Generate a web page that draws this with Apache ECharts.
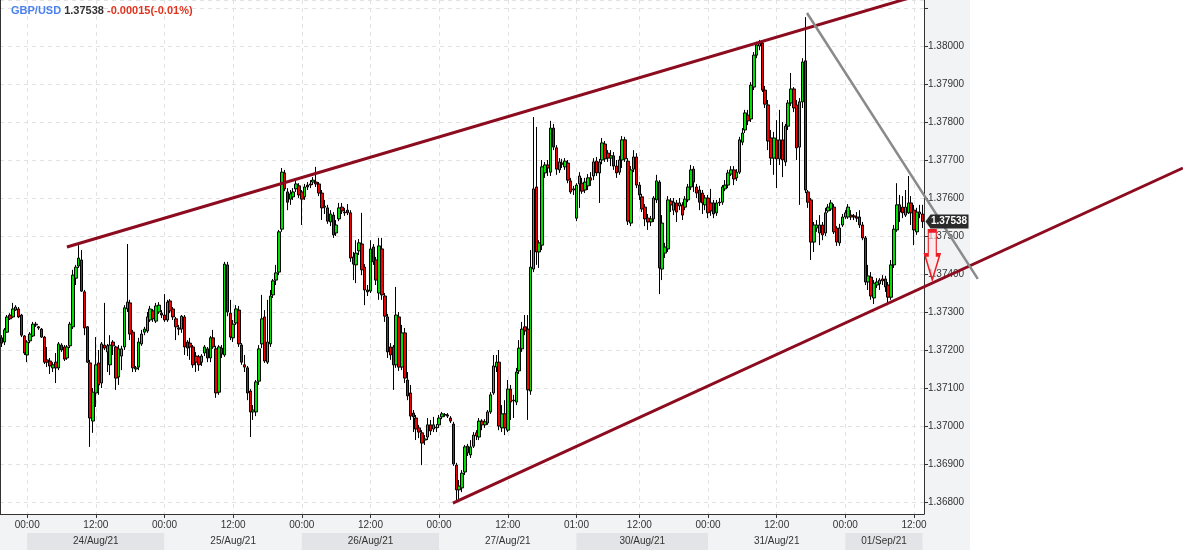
<!DOCTYPE html>
<html><head><meta charset="utf-8">
<script src="https://cdn.jsdelivr.net/npm/echarts@6/dist/echarts.min.js"></script>
<style>html,body{margin:0;padding:0;background:#fff}#c{width:1183px;height:550px}</style>
</head><body><div id="c"></div>
<script>
// trading sessions (30-minute candles): date, first candle, last candle
const sessions = [
  ['2021-08-23', '19:30', '23:30'],
  ['2021-08-24', '00:00', '23:30'],
  ['2021-08-25', '00:00', '23:30'],
  ['2021-08-26', '00:00', '23:30'],
  ['2021-08-27', '00:00', '23:30'],
  ['2021-08-30', '01:00', '23:30'],
  ['2021-08-31', '00:00', '23:30'],
  ['2021-09-01', '00:00', '13:30']
];
const dayLabels = [
  ['2021-08-24', '24/Aug/21'], ['2021-08-25', '25/Aug/21'], ['2021-08-26', '26/Aug/21'],
  ['2021-08-27', '27/Aug/21'], ['2021-08-30', '30/Aug/21'], ['2021-08-31', '31/Aug/21'],
  ['2021-09-01', '01/Sep/21']
];
const symbolName = 'GBP/USD';
const lastPrice = 1.37538;
const changeText = '-0.00015(-0.01%)';
const priceMin = 1.367684, priceMax = 1.381211, priceStep = 0.001;

const openP = [
1.37232,1.37221,1.37247,1.37292,1.37287,1.37305,1.37308,1.37292,1.37237,1.37187,
1.37224,1.37237,1.37268,1.37261,1.37255,1.37234,1.37174,1.37171,1.37153,1.37168,
1.37153,1.37213,1.37208,1.37179,1.37211,1.37261,1.37389,1.37421,1.37437,1.37353,
1.37261,1.37166,1.37013,1.37087,1.37166,1.37113,1.37213,1.37195,1.37161,1.37221,
1.37208,1.37129,1.37184,1.37208,1.37308,1.37324,1.37247,1.37150,1.37155,1.37216,
1.37247,1.37250,1.37279,1.37303,1.37276,1.37300,1.37297,1.37292,1.37279,1.37329,
1.37308,1.37282,1.37258,1.37255,1.37287,1.37221,1.37218,1.37208,1.37184,1.37182,
1.37168,1.37192,1.37203,1.37179,1.37232,1.37203,1.37089,1.37205,1.37187,1.37424,
1.37297,1.37232,1.37271,1.37305,1.37213,1.37161,1.37153,1.37092,1.37037,1.37037,
1.37118,1.37216,1.37287,1.37168,1.37216,1.37345,1.37384,1.37405,1.37518,1.37666,
1.37616,1.37597,1.37603,1.37624,1.37632,1.37616,1.37603,1.37634,1.37637,1.37642,
1.37642,1.37637,1.37613,1.37576,1.37574,1.37537,1.37555,1.37508,1.37545,1.37576,
1.37563,1.37568,1.37561,1.37445,1.37424,1.37461,1.37479,1.37418,1.37358,1.37355,
1.37471,1.37437,1.37350,1.37466,1.37342,1.37287,1.37208,1.37208,1.37161,1.37287,
1.37155,1.37245,1.37121,1.37087,1.37034,1.37021,1.36995,1.36982,1.36963,1.36971,
1.37003,1.36992,1.36995,1.37003,1.37024,1.37029,1.37029,1.37021,1.37005,1.36897,
1.36832,1.36837,1.36879,1.36947,1.36924,1.36947,1.36982,1.36971,1.37013,1.37003,
1.37008,1.37037,1.37087,1.37155,1.37168,1.36995,1.37032,1.36989,1.37097,1.37066,
1.37063,1.37145,1.37203,1.37261,1.37255,1.37092,1.37413,1.37629,1.37458,1.37476,
1.37666,1.37687,1.37668,1.37784,1.37732,1.37674,1.37692,1.37682,1.37692,1.37645,
1.37621,1.37547,1.37637,1.37639,1.37621,1.37632,1.37653,1.37658,1.37697,1.37666,
1.37700,1.37742,1.37718,1.37705,1.37711,1.37684,1.37668,1.37700,1.37753,1.37697,
1.37534,1.37676,1.37708,1.37634,1.37603,1.37576,1.37547,1.37537,1.37545,1.37595,
1.37642,1.37413,1.37455,1.37466,1.37592,1.37568,1.37587,1.37579,1.37582,1.37576,
1.37595,1.37629,1.37676,1.37629,1.37621,1.37613,1.37582,1.37600,1.37587,1.37587,
1.37561,1.37589,1.37589,1.37624,1.37634,1.37663,1.37674,1.37653,1.37668,1.37747,
1.37779,1.37818,1.37808,1.37892,1.37976,1.38000,1.38008,1.37884,1.37845,1.37758,
1.37705,1.37753,1.37703,1.37753,1.37695,1.37789,1.37850,1.37887,1.37845,1.37734,
1.37853,1.37961,1.37616,1.37595,1.37484,1.37521,1.37508,1.37529,1.37508,1.37566,
1.37571,1.37576,1.37521,1.37482,1.37529,1.37550,1.37550,1.37555,1.37553,1.37550,
1.37550,1.37529,1.37495,1.37379,1.37392,1.37337,1.37371,1.37374,1.37387,1.37387,
1.37371,1.37339,1.37424,1.37516,1.37582,1.37576,1.37555,1.37561,1.37587,1.37568,
1.37511,1.37558,1.37558
];
const closeP = [
1.37218,1.37253,1.37287,1.37282,1.37308,1.37313,1.37287,1.37239,1.37192,1.37221,
1.37242,1.37268,1.37266,1.37258,1.37234,1.37168,1.37168,1.37158,1.37161,1.37153,
1.37216,1.37200,1.37176,1.37208,1.37268,1.37397,1.37418,1.37442,1.37355,1.37258,
1.37168,1.37021,1.37089,1.37161,1.37108,1.37216,1.37205,1.37211,1.37213,1.37211,
1.37126,1.37203,1.37203,1.37311,1.37326,1.37242,1.37153,1.37153,1.37221,1.37242,
1.37255,1.37287,1.37308,1.37282,1.37316,1.37318,1.37292,1.37279,1.37326,1.37303,
1.37287,1.37261,1.37255,1.37289,1.37208,1.37205,1.37208,1.37161,1.37168,1.37161,
1.37184,1.37208,1.37179,1.37232,1.37208,1.37087,1.37208,1.37189,1.37426,1.37300,
1.37234,1.37268,1.37308,1.37216,1.37168,1.37155,1.37087,1.37037,1.37042,1.37116,
1.37203,1.37282,1.37171,1.37221,1.37342,1.37382,1.37403,1.37511,1.37668,1.37624,
1.37589,1.37611,1.37616,1.37637,1.37608,1.37597,1.37629,1.37629,1.37634,1.37647,
1.37637,1.37613,1.37574,1.37579,1.37539,1.37558,1.37503,1.37529,1.37574,1.37566,
1.37561,1.37561,1.37442,1.37426,1.37455,1.37482,1.37411,1.37358,1.37353,1.37466,
1.37432,1.37384,1.37474,1.37345,1.37289,1.37195,1.37187,1.37161,1.37292,1.37155,
1.37245,1.37126,1.37079,1.37026,1.37024,1.36992,1.36984,1.36955,1.36966,1.37003,
1.36987,1.37003,1.36997,1.37021,1.37032,1.37030,1.37026,1.37013,1.36900,1.36832,
1.36842,1.36876,1.36945,1.36929,1.36945,1.36976,1.36974,1.37013,1.37003,1.37011,
1.37037,1.37082,1.37158,1.37168,1.37000,1.37032,1.36995,1.37097,1.37063,1.37068,
1.37142,1.37205,1.37255,1.37250,1.37095,1.37418,1.37624,1.37458,1.37482,1.37682,
1.37687,1.37679,1.37784,1.37734,1.37676,1.37695,1.37689,1.37697,1.37647,1.37616,
1.37624,1.37634,1.37658,1.37618,1.37642,1.37653,1.37647,1.37695,1.37666,1.37695,
1.37745,1.37703,1.37705,1.37711,1.37684,1.37666,1.37700,1.37753,1.37703,1.37539,
1.37674,1.37708,1.37634,1.37608,1.37571,1.37545,1.37537,1.37545,1.37600,1.37645,
1.37416,1.37534,1.37471,1.37595,1.37582,1.37589,1.37563,1.37587,1.37555,1.37597,
1.37629,1.37674,1.37642,1.37613,1.37589,1.37587,1.37600,1.37561,1.37566,1.37558,
1.37587,1.37587,1.37629,1.37634,1.37666,1.37674,1.37650,1.37668,1.37753,1.37771,
1.37824,1.37803,1.37897,1.37976,1.38003,1.38008,1.37884,1.37847,1.37750,1.37705,
1.37758,1.37703,1.37753,1.37700,1.37789,1.37850,1.37887,1.37837,1.37732,1.37853,
1.37958,1.37621,1.37589,1.37484,1.37529,1.37529,1.37529,1.37503,1.37561,1.37576,
1.37587,1.37511,1.37484,1.37521,1.37550,1.37561,1.37576,1.37550,1.37550,1.37547,
1.37529,1.37495,1.37379,1.37395,1.37342,1.37376,1.37379,1.37384,1.37382,1.37366,
1.37339,1.37424,1.37518,1.37582,1.37563,1.37561,1.37576,1.37587,1.37561,1.37516,
1.37563,1.37563,1.37538
];
const lowP = [
1.37208,1.37213,1.37245,1.37279,1.37284,1.37303,1.37284,1.37234,1.37187,1.37168,
1.37218,1.37234,1.37261,1.37253,1.37232,1.37163,1.37155,1.37137,1.37142,1.37113,
1.37147,1.37195,1.37171,1.37174,1.37205,1.37255,1.37371,1.37416,1.37353,1.37239,
1.37166,1.36945,1.36982,1.37050,1.37082,1.37100,1.37200,1.37142,1.37134,1.37187,
1.37095,1.37108,1.37147,1.37200,1.37300,1.37226,1.37142,1.37142,1.37147,1.37211,
1.37239,1.37245,1.37274,1.37274,1.37271,1.37295,1.37284,1.37274,1.37274,1.37297,
1.37279,1.37226,1.37239,1.37245,1.37187,1.37184,1.37174,1.37153,1.37142,1.37145,
1.37158,1.37184,1.37168,1.37168,1.37203,1.37074,1.37082,1.37179,1.37182,1.37289,
1.37226,1.37221,1.37266,1.37208,1.37161,1.37142,1.37068,1.36971,1.37016,1.37026,
1.37108,1.37205,1.37166,1.37163,1.37208,1.37337,1.37371,1.37397,1.37511,1.37618,
1.37568,1.37582,1.37595,1.37616,1.37600,1.37529,1.37595,1.37621,1.37626,1.37634,
1.37629,1.37605,1.37542,1.37558,1.37532,1.37526,1.37495,1.37500,1.37539,1.37558,
1.37553,1.37555,1.37432,1.37384,1.37376,1.37450,1.37397,1.37318,1.37342,1.37350,
1.37424,1.37371,1.37332,1.37332,1.37274,1.37179,1.37174,1.37095,1.37153,1.37145,
1.37147,1.37113,1.37068,1.37016,1.36984,1.36963,1.36968,1.36897,1.36950,1.36963,
1.36976,1.36984,1.36984,1.36995,1.37018,1.37024,1.37021,1.37008,1.36895,1.36805,
1.36808,1.36826,1.36871,1.36921,1.36916,1.36942,1.36963,1.36963,1.36989,1.36995,
1.37003,1.37032,1.37082,1.37142,1.36989,1.36984,1.36976,1.36984,1.37016,1.37021,
1.37055,1.37137,1.37195,1.37239,1.37016,1.37082,1.37405,1.37424,1.37416,1.37463,
1.37653,1.37658,1.37658,1.37726,1.37661,1.37666,1.37679,1.37674,1.37639,1.37611,
1.37608,1.37539,1.37574,1.37611,1.37613,1.37621,1.37632,1.37647,1.37658,1.37587,
1.37689,1.37695,1.37695,1.37684,1.37674,1.37653,1.37661,1.37679,1.37695,1.37529,
1.37526,1.37668,1.37626,1.37595,1.37563,1.37526,1.37516,1.37526,1.37537,1.37587,
1.37347,1.37384,1.37442,1.37458,1.37563,1.37555,1.37537,1.37568,1.37542,1.37568,
1.37589,1.37621,1.37616,1.37600,1.37568,1.37558,1.37568,1.37547,1.37553,1.37547,
1.37553,1.37579,1.37582,1.37618,1.37626,1.37658,1.37634,1.37645,1.37663,1.37739,
1.37771,1.37792,1.37800,1.37884,1.37968,1.37989,1.37879,1.37837,1.37726,1.37687,
1.37661,1.37626,1.37687,1.37655,1.37684,1.37779,1.37842,1.37826,1.37700,1.37582,
1.37837,1.37613,1.37574,1.37437,1.37458,1.37511,1.37476,1.37489,1.37500,1.37561,
1.37566,1.37505,1.37474,1.37474,1.37524,1.37545,1.37545,1.37542,1.37542,1.37537,
1.37521,1.37489,1.37371,1.37358,1.37332,1.37321,1.37363,1.37358,1.37371,1.37353,
1.37318,1.37332,1.37416,1.37511,1.37537,1.37547,1.37550,1.37558,1.37529,1.37476,
1.37503,1.37547,1.37521
];
const highP = [
1.37239,1.37258,1.37292,1.37297,1.37324,1.37318,1.37313,1.37295,1.37239,1.37226,
1.37247,1.37274,1.37274,1.37263,1.37258,1.37237,1.37208,1.37179,1.37168,1.37192,
1.37221,1.37218,1.37213,1.37213,1.37274,1.37411,1.37424,1.37476,1.37463,1.37358,
1.37263,1.37174,1.37100,1.37234,1.37200,1.37221,1.37324,1.37216,1.37239,1.37226,
1.37211,1.37213,1.37211,1.37318,1.37479,1.37332,1.37253,1.37158,1.37232,1.37253,
1.37261,1.37300,1.37316,1.37308,1.37324,1.37326,1.37305,1.37347,1.37332,1.37334,
1.37313,1.37287,1.37266,1.37292,1.37292,1.37226,1.37232,1.37213,1.37195,1.37187,
1.37189,1.37213,1.37208,1.37237,1.37253,1.37211,1.37213,1.37213,1.37432,1.37432,
1.37332,1.37279,1.37318,1.37316,1.37218,1.37187,1.37158,1.37097,1.37055,1.37121,
1.37213,1.37345,1.37305,1.37332,1.37358,1.37387,1.37424,1.37516,1.37679,1.37674,
1.37626,1.37621,1.37626,1.37645,1.37639,1.37621,1.37637,1.37642,1.37647,1.37655,
1.37682,1.37642,1.37621,1.37595,1.37582,1.37568,1.37563,1.37542,1.37587,1.37587,
1.37574,1.37584,1.37568,1.37458,1.37489,1.37492,1.37561,1.37426,1.37371,1.37489,
1.37479,1.37445,1.37495,1.37495,1.37350,1.37295,1.37218,1.37213,1.37366,1.37300,
1.37266,1.37258,1.37142,1.37108,1.37042,1.37029,1.37003,1.36989,1.36976,1.37021,
1.37016,1.37024,1.37005,1.37029,1.37037,1.37034,1.37034,1.37026,1.37011,1.36903,
1.36858,1.36884,1.36950,1.36953,1.36963,1.36984,1.36989,1.37021,1.37018,1.37018,
1.37042,1.37089,1.37187,1.37187,1.37200,1.37055,1.37068,1.37121,1.37108,1.37082,
1.37153,1.37226,1.37274,1.37292,1.37292,1.37463,1.37813,1.37787,1.37489,1.37700,
1.37695,1.37700,1.37803,1.37795,1.37739,1.37705,1.37703,1.37705,1.37700,1.37653,
1.37632,1.37639,1.37668,1.37653,1.37653,1.37663,1.37668,1.37705,1.37708,1.37703,
1.37758,1.37750,1.37726,1.37726,1.37721,1.37700,1.37711,1.37763,1.37761,1.37705,
1.37684,1.37726,1.37718,1.37642,1.37611,1.37584,1.37558,1.37553,1.37605,1.37661,
1.37647,1.37555,1.37482,1.37605,1.37600,1.37600,1.37595,1.37600,1.37589,1.37605,
1.37637,1.37687,1.37684,1.37637,1.37632,1.37621,1.37608,1.37608,1.37624,1.37595,
1.37595,1.37600,1.37634,1.37647,1.37674,1.37684,1.37684,1.37676,1.37761,1.37784,
1.37832,1.37832,1.37905,1.37984,1.38011,1.38016,1.38013,1.37895,1.37858,1.37779,
1.37774,1.37805,1.37832,1.37800,1.37795,1.37858,1.37929,1.37892,1.37858,1.37863,
1.37968,1.38076,1.37621,1.37600,1.37537,1.37542,1.37555,1.37537,1.37574,1.37584,
1.37595,1.37584,1.37526,1.37532,1.37558,1.37568,1.37584,1.37568,1.37558,1.37563,
1.37568,1.37537,1.37500,1.37424,1.37405,1.37384,1.37389,1.37389,1.37397,1.37395,
1.37379,1.37437,1.37529,1.37639,1.37608,1.37605,1.37621,1.37658,1.37605,1.37582,
1.37574,1.37582,1.37582
];
// drawn annotations: [candle index, price]
const upperChannel = [[22.9, 1.37471], [322.5, 1.38138]];
const lowerChannel = [[157.8, 1.36797], [413.0, 1.37679]];
const grayTrend = [[281.6, 1.38087], [341.3, 1.37387]];
const arrowMark = [[325.4, 1.37449]];

function buildCategories() {
  const out = [];
  sessions.forEach(([d, s, e]) => {
    let [h, m] = s.split(':').map(Number);
    const [eh, em] = e.split(':').map(Number);
    while (h * 60 + m <= eh * 60 + em) {
      out.push(d + ' ' + String(h).padStart(2, '0') + ':' + String(m).padStart(2, '0'));
      m += 30; if (m >= 60) { m -= 60; h++; }
    }
  });
  return out;
}
const cats = buildCategories();
const candles = cats.map((c, i) => [openP[i], closeP[i], lowP[i], highP[i]]);

function showTick(idx) {
  const v = cats[idx];
  if (!v) return false;
  const t = v.slice(11);
  if (t === '00:00' || t === '12:00') return true;
  return idx > 0 && v.slice(0, 10) !== cats[idx - 1].slice(0, 10);
}

const bandDark = '#e3e4e7', bandLight = '#f2f3f5';
const bandData = dayLabels.map(([d, label], i) => {
  const start = cats.find(c => c.startsWith(d));
  const next = dayLabels[i + 1];
  const end = next ? cats.find(c => c.startsWith(next[0])) : cats[cats.length - 1];
  return [{ name: label, xAxis: start, itemStyle: { color: i % 2 === 0 ? bandDark : bandLight } }, { xAxis: end }];
});

const FONT = 'Liberation Sans, Arial, sans-serif';
const axisFont = { color: '#333', fontSize: 10, fontFamily: FONT };
const plotW = 924, plotH = 514, canvasW = 1183;
const slotPx = plotW / cats.length;

const chart = echarts.init(document.getElementById('c'), null, { renderer: 'canvas' });
chart.setOption({
  animation: false,
  backgroundColor: '#fff',
  title: {
    left: 6, top: 0,
    text: '{a|' + symbolName + '} {b|' + lastPrice.toFixed(5) + '} {c|' + changeText + '}',
    textStyle: {
      fontSize: 11, fontWeight: 'bold', fontFamily: FONT,
      rich: {
        a: { color: '#4a80ee', fontSize: 11, fontWeight: 'bold', fontFamily: FONT },
        b: { color: '#333', fontSize: 11, fontWeight: 'bold', fontFamily: FONT },
        c: { color: '#e0341f', fontSize: 11, fontWeight: 'bold', fontFamily: FONT }
      }
    }
  },
  graphic: [
    { type: 'rect', z: -10, silent: true, shape: { x: 0, y: 514, width: 970, height: 36 }, style: { fill: bandLight } },
    { type: 'rect', z: -10, silent: true, shape: { x: 924, y: 0, width: 46, height: 514 }, style: { fill: bandLight } }
  ],
  grid: [
    { left: 0, top: 0, width: plotW, height: plotH },
    { left: 0, top: 0, width: canvasW, height: plotH },
    { left: 0, top: 533, width: plotW, height: 17 }
  ],
  xAxis: [
    {
      type: 'category', gridIndex: 0, data: cats, boundaryGap: true,
      axisLine: { lineStyle: { color: '#333', width: 1 } },
      axisTick: { show: true, alignWithLabel: true, interval: showTick, length: 4, lineStyle: { color: '#333' } },
      axisLabel: Object.assign({ interval: showTick, formatter: v => v.slice(11), margin: 6 }, axisFont),
      splitLine: { show: true, alignWithLabel: true, interval: showTick, lineStyle: { color: '#e2e2e2', type: [4, 4] } }
    },
    { type: 'value', gridIndex: 1, min: -0.5, max: -0.5 + canvasW / slotPx, show: false },
    { type: 'category', gridIndex: 2, data: cats, boundaryGap: true, show: false }
  ],
  yAxis: [
    {
      type: 'value', gridIndex: 0, position: 'right', min: priceMin, max: priceMax,
      minInterval: priceStep, maxInterval: priceStep, splitNumber: 13, scale: true,
      axisLine: { show: true, lineStyle: { color: '#333' } },
      axisTick: { show: true, length: 4, lineStyle: { color: '#333' } },
      axisLabel: Object.assign({
        showMinLabel: false, showMaxLabel: false, margin: 4, hideOverlap: false,
        formatter: v => (v > priceMax - 0.0005 ? '' : v.toFixed(5))
      }, axisFont),
      splitLine: { show: true, lineStyle: { color: '#e2e2e2', type: [4, 4] } }
    },
    {
      type: 'value', gridIndex: 0, position: 'left', min: priceMin, max: priceMax,
      axisLine: { show: true, lineStyle: { color: '#333' } },
      axisTick: { show: false }, axisLabel: { show: false }, splitLine: { show: false }
    },
    { type: 'value', gridIndex: 1, min: priceMin, max: priceMax, show: false },
    { type: 'value', gridIndex: 2, min: 0, max: 1, show: false }
  ],
  series: [
    {
      type: 'candlestick', xAxisIndex: 0, yAxisIndex: 0, data: candles, barWidth: 3,
      itemStyle: { color: '#00e000', color0: '#f20000', borderColor: '#000', borderColor0: '#000', borderWidth: 1 }
    },
    {
      type: 'line', xAxisIndex: 1, yAxisIndex: 2, data: upperChannel, silent: true,
      symbol: 'none', lineStyle: { color: '#8c0b1e', width: 3 }, z: 5
    },
    {
      type: 'line', xAxisIndex: 1, yAxisIndex: 2, data: lowerChannel, silent: true,
      symbol: 'none', lineStyle: { color: '#8c0b1e', width: 3 }, z: 5
    },
    {
      type: 'line', xAxisIndex: 1, yAxisIndex: 2, data: grayTrend, silent: true,
      symbol: 'none', lineStyle: { color: '#8a8a8a', width: 2.5 }, z: 5
    },
    {
      type: 'scatter', xAxisIndex: 1, yAxisIndex: 2, data: arrowMark, silent: true,
      symbol: 'path://M3.5,0 L11.5,0 L11.5,24 L15,24 L7.5,49 L0,24 L3.5,24 Z',
      symbolSize: [15, 49], symbolKeepAspect: false,
      itemStyle: { color: 'rgba(255,230,230,0.6)', borderColor: '#ee1c24', borderWidth: 2, opacity: 1 }, z: 6
    },
    {
      // last-price tag on the price axis
      type: 'scatter', xAxisIndex: 1, yAxisIndex: 2, data: [[cats.length - 0.5, lastPrice]], silent: true,
      symbol: 'path://M0,7 L5,0 L43,0 L43,14 L5,14 Z', symbolSize: [43, 14], symbolOffset: [23, 0],
      symbolKeepAspect: false,
      itemStyle: { color: '#2a2a2a', opacity: 1 }, z: 7,
      label: {
        show: true, position: 'inside', offset: [2, 0], formatter: () => lastPrice.toFixed(5),
        color: '#fff', fontSize: 10, fontWeight: 'bold', fontFamily: FONT
      }
    },
    {
      type: 'line', xAxisIndex: 2, yAxisIndex: 3, data: [], silent: true,
      markArea: {
        silent: true,
        label: Object.assign({ show: true, position: 'inside' }, axisFont),
        data: bandData
      }
    }
  ]
});
</script>
</body></html>
